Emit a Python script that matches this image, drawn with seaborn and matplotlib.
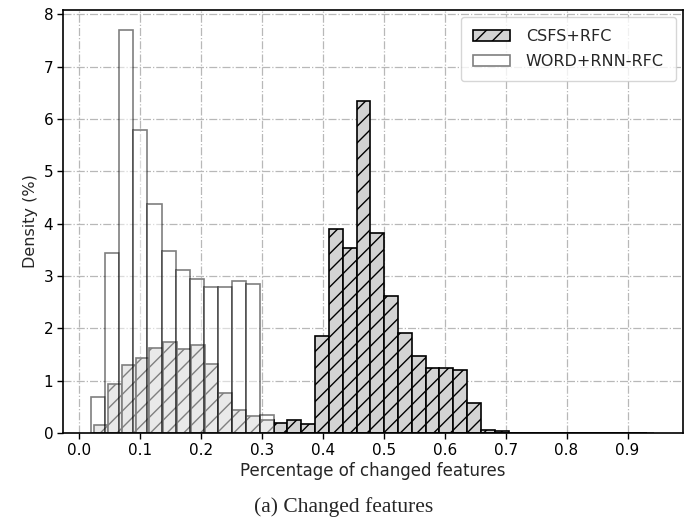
import numpy as np
import pandas as pd
import matplotlib
matplotlib.use("Agg")
import matplotlib.pyplot as plt
import matplotlib.patches as mpatches
import seaborn as sns

# ---- data ----
csfs_label = "CSFS+RFC"
word_label = "WORD+RNN-RFC"
csfs_range = (0.025, 0.9314)
word_range = (0.0202, 0.944)
n_bins = 40
csfs_density = [0.15, 0.93, 1.30, 1.44, 1.62, 1.73, 1.60, 1.69, 1.32, 0.77,
                0.44, 0.32, 0.25, 0.20, 0.25, 0.17, 1.86, 3.89, 3.54, 6.35,
                3.82, 2.62, 1.92, 1.47, 1.25, 1.25, 1.20, 0.57, 0.05, 0.03,
                0.01, 0.01, 0.01, 0.01, 0.005, 0.005, 0.005, 0.005, 0.005, 0.005]
word_density = [0.69, 3.43, 7.69, 5.79, 4.37, 3.48, 3.12, 2.95, 2.79, 2.79,
                2.90, 2.84, 0.34, 0, 0, 0, 0, 0, 0, 0,
                0, 0, 0, 0, 0, 0, 0, 0, 0, 0,
                0, 0, 0, 0, 0, 0, 0, 0, 0, 0.005]
x_ticks = [0.0, 0.1, 0.2, 0.3, 0.4, 0.5, 0.6, 0.7, 0.8, 0.9]
y_ticks = [0, 1, 2, 3, 4, 5, 6, 7, 8]
x_label = "Percentage of changed features"
y_label = "Density (%)"
caption = "(a) Changed features"

sns.set_style("white")
plt.rcParams["font.family"] = ["DejaVu Sans"]
plt.rcParams["hatch.linewidth"] = 1.0

csfs_edges = np.linspace(csfs_range[0], csfs_range[1], n_bins + 1)
word_edges = np.linspace(word_range[0], word_range[1], n_bins + 1)
csfs_df = pd.DataFrame({"x": (csfs_edges[:-1] + csfs_edges[1:]) / 2, "w": csfs_density})
word_df = pd.DataFrame({"x": (word_edges[:-1] + word_edges[1:]) / 2, "w": word_density})

fig = plt.figure(figsize=(6.88, 5.18), dpi=100)
ax = fig.add_axes([0.0916, 0.164, 0.9011, 0.8167])

sns.histplot(data=csfs_df, x="x", weights="w", bins=csfs_edges.tolist(), stat="count",
             color="#d3d3d3", alpha=1.0, edgecolor="black", linewidth=1.2,
             hatch="//", ax=ax)
sns.histplot(data=word_df, x="x", weights="w", bins=word_edges.tolist(), stat="count",
             color="white", alpha=0.5, edgecolor=(0, 0, 0, 0.5), linewidth=1.2,
             ax=ax)

ax.set_xlim(-0.026, 0.991)
ax.set_ylim(0, 8.08)
ax.set_xticks(x_ticks)
ax.set_xticklabels([f"{v:.1f}" for v in x_ticks])
ax.set_yticks(y_ticks)
ax.tick_params(axis="both", direction="out", length=4, width=1, labelsize=11,
               bottom=True, left=True, colors="black", pad=3)
ax.set_axisbelow(True)
ax.grid(True, linestyle="-.", color="#b8b8b8", linewidth=0.9)
for s in ax.spines.values():
    s.set_color("black")
    s.set_linewidth(1.2)
ax.set_xlabel(x_label, fontsize=12, labelpad=3)
ax.set_ylabel(y_label, fontsize=11.5, labelpad=4)

handles = [
    mpatches.Patch(facecolor="#d3d3d3", edgecolor="black", hatch="//", linewidth=1.2, label=csfs_label),
    mpatches.Patch(facecolor="white", edgecolor=(0, 0, 0, 0.5), linewidth=1.2, label=word_label),
]
ax.legend(handles=handles, loc="upper right", fontsize=11.5, frameon=True,
          borderaxespad=0.45, borderpad=0.75, labelspacing=0.6,
          handlelength=2.3, handletextpad=1.0)

fig.text(0.5, 0.012, caption, ha="center", va="baseline",
         fontsize=15.5, family=["Liberation Serif"])

fig.savefig("out.png", dpi=100)
